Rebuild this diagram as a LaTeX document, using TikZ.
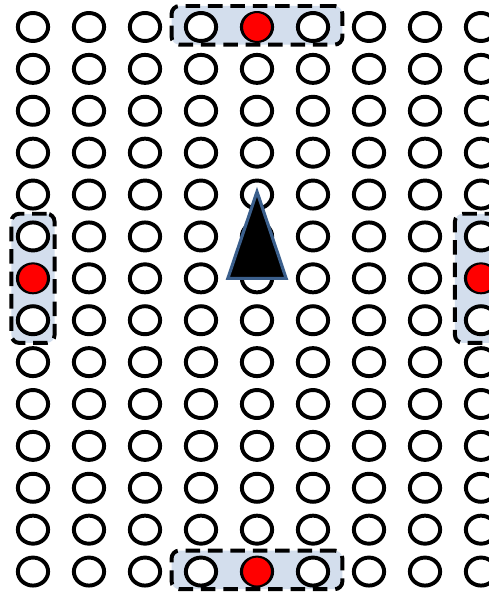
\documentclass[tikz,border=0pt]{standalone}
\usepackage{tikz}
\usetikzlibrary{shapes.geometric, fit, backgrounds}
\definecolor{zoneblue}{RGB}{211,222,237}
\definecolor{robotblue}{RGB}{59,95,140}

\begin{document}
\begin{tikzpicture}[
  cell/.style={draw=black, fill=white, ellipse, line width=2pt,
               minimum width=0.54cm, minimum height=0.5cm, inner sep=0pt},
  target/.style={draw=black, fill=red, circle, line width=0.6pt,
                 minimum size=0.52cm, inner sep=0pt},
  zone/.style={draw=black, fill=zoneblue, dashed, line width=2pt,
               dash pattern=on 0.26cm off 0.14cm, rounded corners=4pt},
  robot/.style={draw=robotblue, fill=black, line width=1.6pt, line join=miter}
]
  \useasboundingbox (-0.589,0.482) rectangle (8.125,-10.089);

  %% Grid of cells: 9 columns, 14 rows
  \foreach \i in {0,...,8}
    \foreach \j in {0,...,13}
      \node[cell] (c-\i-\j) at (\i,-0.748*\j) {};

  %% Highlighted zones (behind the grid)
  \begin{scope}[on background layer]
    \node[zone, fit=(c-3-0)(c-5-0), inner xsep=0.22cm, inner ysep=0.06cm,
          yshift=0.03cm] (ztop) {};
    \node[zone, fit=(c-3-13)(c-5-13), inner xsep=0.22cm, inner ysep=0.06cm,
          yshift=0.03cm] (zbot) {};
    \node[zone, fit=(c-0-5)(c-0-7), inner xsep=0.08cm, inner ysep=0.12cm] (zleft) {};
    \node[zone, fit=(c-8-5)(c-8-7), inner xsep=0.16cm, inner ysep=0.12cm] (zright) {};
  \end{scope}

  %% Targets
  \node[target] (ttop)   at (c-4-0)  {};
  \node[target] (tbot)   at (c-4-13) {};
  \node[target] (tleft)  at (c-0-6)  {};
  \node[target] (tright) at (c-8-6)  {};

  %% Robot
  \draw[robot] ([xshift=-0.52cm]c-4-6.center) -- ([yshift=0.05cm]c-4-4.center)
    -- ([xshift=0.52cm]c-4-6.center) -- cycle;
\end{tikzpicture}
\end{document}
